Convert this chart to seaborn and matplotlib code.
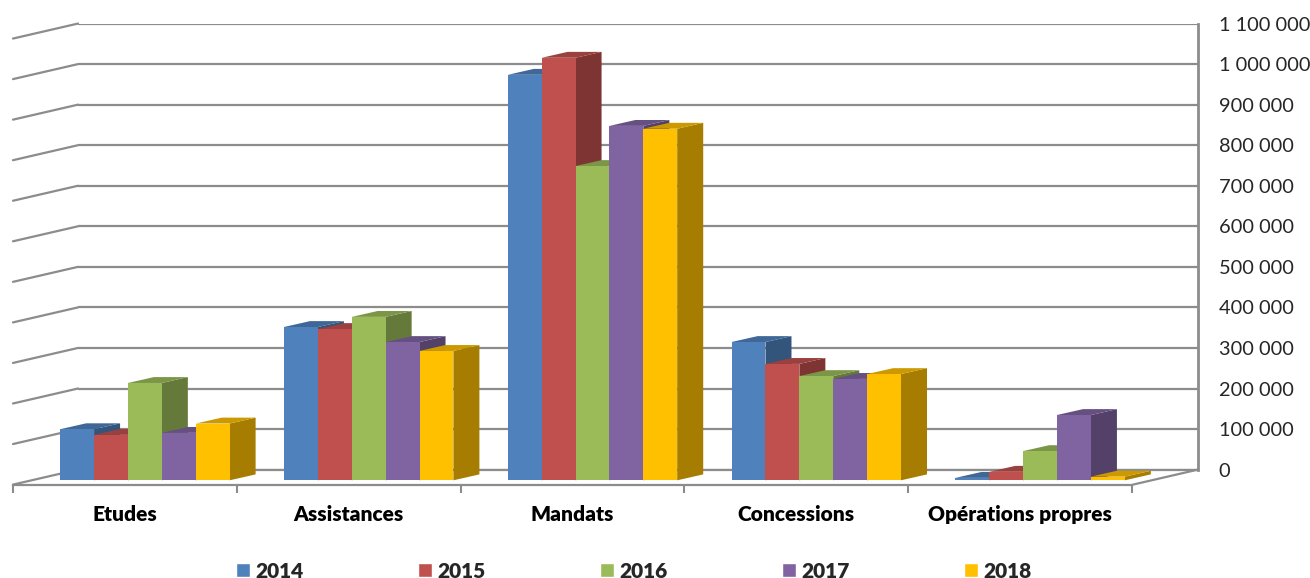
import pandas as pd
import matplotlib.pyplot as plt
import seaborn as sns
from matplotlib.patches import Polygon
from matplotlib.colors import to_rgb

# Values
categories = ["Etudes", "Assistances", "Mandats", "Concessions", "Opérations propres"]
years = ["2014", "2015", "2016", "2017", "2018"]
v2014 = [126000, 378000, 1000000, 341000, 6000]
v2015 = [112000, 373000, 1042000, 287000, 21000]
v2016 = [240000, 403000, 775000, 257000, 72000]
v2017 = [117000, 341000, 874000, 250000, 161000]
v2018 = [140000, 319000, 867000, 262000, 9000]
colors = ["#4F81BD", "#C0504D", "#9BBB59", "#8064A2", "#FFC000"]
y_ticks = [0, 100000, 200000, 300000, 400000, 500000, 600000, 700000, 800000, 900000, 1000000, 1100000]

W, H = 1310, 578
GRID = "#8C8C8C"
Y_MAX = 1100000
PX_PER_VALUE = 40.55 / 100000
DEPTH_X, DEPTH_Y = 65, 15      # floor depth in pixels
BAR_DX, BAR_DY = 26, 5.9       # bar depth in pixels


def px_axes(left, right, bottom, top):
    # axes rectangle from pixel positions (y counted from the top of the image)
    return fig.add_axes([left / W, 1 - bottom / H, (right - left) / W, (bottom - top) / H])


def shade(color, factor):
    return tuple(c * factor for c in to_rgb(color))


rows = []
for year, vals in zip(years, [v2014, v2015, v2016, v2017, v2018]):
    for cat, val in zip(categories, vals):
        rows.append({"category": cat, "year": year, "value": val})
df = pd.DataFrame(rows)

sns.set_theme(style="white")
plt.rcParams["font.family"] = ["Lato", "DejaVu Sans"]

fig = plt.figure(figsize=(W / 100, H / 100), dpi=100)

# back wall with the value axis
wall_bottom = 469.6
wall = px_axes(78, 1198, wall_bottom, wall_bottom - Y_MAX * PX_PER_VALUE)
wall.set_ylim(0, Y_MAX)
wall.set_xlim(0, 1)
wall.set_xticks([])
wall.yaxis.tick_right()
wall.set_yticks(y_ticks)
wall.set_yticklabels([f"{v:,}".replace(",", " ") for v in y_ticks], fontsize=14.4, color="#262626")
wall.tick_params(axis="y", length=0, pad=15)
wall.grid(axis="y", color=GRID, lw=1.6)
for side in ["top", "left"]:
    wall.spines[side].set_visible(False)
wall.spines["right"].set_color(GRID)
wall.spines["right"].set_linewidth(2)
wall.spines["bottom"].set_color(GRID)
wall.spines["bottom"].set_linewidth(1.6)

# left wall and right floor edge
trans = wall.get_yaxis_transform()
frac = DEPTH_X / 1120
drop = DEPTH_Y / PX_PER_VALUE
for v in y_ticks:
    wall.plot([-frac, 0], [v - drop, v], color=GRID, lw=1.6, transform=trans, clip_on=False)
wall.plot([1 - frac, 1], [-drop, 0], color=GRID, lw=1.6, transform=trans, clip_on=False)

# front floor edge with the category labels
floor = px_axes(13, 1132, 485, 470)
floor.patch.set_alpha(0)
floor.set_xlim(0, 5)
floor.set_yticks([])
floor.set_xticks(range(6))
floor.set_xticklabels([])
floor.set_xticks([i + 0.5 for i in range(5)], minor=True)
floor.set_xticklabels(categories, minor=True, fontsize=15, fontweight="heavy", color="black")
floor.tick_params(axis="x", which="major", length=6, width=1.5, color=GRID, bottom=True)
floor.tick_params(axis="x", which="minor", length=0, pad=14.5)
for side in ["top", "left", "right"]:
    floor.spines[side].set_visible(False)
floor.spines["bottom"].set_color(GRID)
floor.spines["bottom"].set_linewidth(1.6)

# bars, on a plane between the front edge and the wall
bars = px_axes(33, 1152, 480.3, 480.3 - Y_MAX * PX_PER_VALUE)
bars.patch.set_alpha(0)
sns.barplot(data=df, x="category", y="value", hue="year", hue_order=years,
            palette=colors, width=0.757, saturation=1, gap=0, ax=bars)
bars.set_xlim(-0.5, 4.5)
bars.set_ylim(0, Y_MAX)
bars.set_xlabel("")
bars.set_ylabel("")
bars.set_xticks([])
bars.set_yticks([])
sns.despine(ax=bars, left=True, bottom=True)

handles, labels = bars.get_legend_handles_labels()
bars.legend_.remove()

# side and top faces of every bar, painted from left to right
dx = BAR_DX / (1119 / 5)
dy = BAR_DY / PX_PER_VALUE
front = sorted([p for p in bars.patches if p.get_width() > 0], key=lambda p: p.get_x())
for i, p in enumerate(front):
    x0, x1 = p.get_x(), p.get_x() + p.get_width()
    h = p.get_height()
    color = p.get_facecolor()[:3]
    p.set_linewidth(0)
    p.set_zorder(10 + 3 * i + 2)
    bars.add_patch(Polygon([(x1, 0), (x1 + dx, dy), (x1 + dx, h + dy), (x1, h)], closed=True,
                           fc=shade(color, 0.65), ec="none", clip_on=False, zorder=10 + 3 * i))
    bars.add_patch(Polygon([(x0, h), (x0 + dx, h + dy), (x1 + dx, h + dy), (x1, h)], closed=True,
                           fc=shade(color, 0.8), ec="none", clip_on=False, zorder=10 + 3 * i + 1))

fig.legend(handles, labels, ncol=5, loc="center", bbox_to_anchor=(634 / W, 1 - 571 / H),
           frameon=False, handlelength=0.65, handleheight=0.65, handletextpad=0.28,
           columnspacing=5.49, prop={"size": 15, "weight": "heavy"})

fig.savefig("out.png", dpi=100)
